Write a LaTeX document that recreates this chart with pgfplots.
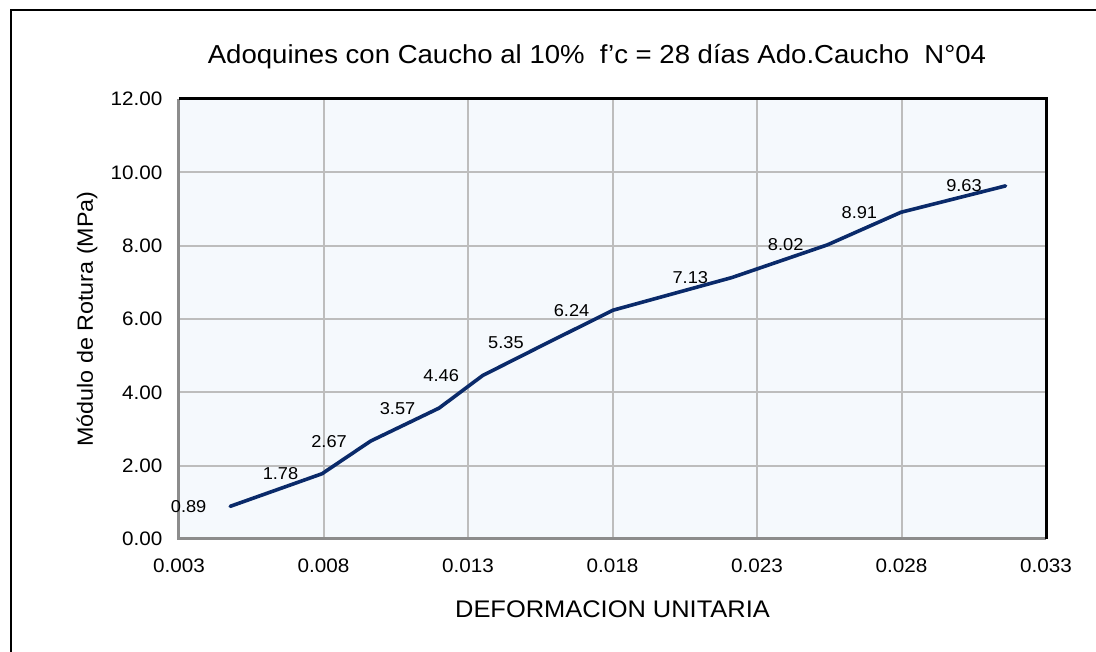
\documentclass[border=0pt]{standalone}
\usepackage{fontspec}
\setmainfont{Liberation Sans}[FakeStretch=1.06]
\usepackage{pgfplots}
\usepackage{pgfplotstable}
\pgfplotsset{compat=1.18}
\pgfkeys{/pgf/number format/assume math mode=true}
\definecolor{linec}{HTML}{0A2A6A}
\definecolor{bgc}{HTML}{F5F9FD}
\definecolor{gridc}{HTML}{BDBDBD}
\definecolor{framec}{HTML}{8C8C8C}
\pgfplotstableread{
x y
0.00477 0.89
0.00795 1.78
0.00963 2.67
0.01200 3.57
0.01351 4.46
0.01575 5.35
0.01802 6.24
0.02213 7.13
0.02543 8.02
0.02798 8.91
0.03160 9.63
}\datatable
\begin{document}
\begin{tikzpicture}[x=1pt,y=1pt]
\useasboundingbox (0,0) rectangle (1096,652);
\draw[line width=2pt] (11,-2) -- (11,642) -- (1098,642);
\node[font=\fontsize{26}{30}\selectfont] at (597,595) {Adoquines con Caucho al 10\%\ \ f’c = 28 días Ado.Caucho\ \ N°04};
\begin{axis}[
  at={(179pt,113pt)}, anchor=south west,
  scale only axis, width=867pt, height=440pt,
  xmin=0.003, xmax=0.033, ymin=0, ymax=12,
  xtick={0.003,0.008,0.013,0.018,0.023,0.028,0.033},
  ytick={0,2,4,6,8,10,12},
  scaled x ticks=false, scaled y ticks=false,
  xticklabel style={/pgf/number format/fixed, /pgf/number format/fixed zerofill, /pgf/number format/precision=3, font=\fontsize{19.5}{22}\selectfont, yshift=-16pt},
  yticklabel style={/pgf/number format/fixed, /pgf/number format/fixed zerofill, /pgf/number format/precision=2, font=\fontsize{19.5}{22}\selectfont, xshift=-13pt},
  major tick length=0pt,
  tick style={draw=none},
  grid=major,
  major grid style={gridc, line width=2pt},
  axis line style={draw=none},
  axis background/.style={fill=bgc},
  xlabel={DEFORMACION UNITARIA},
  ylabel={Módulo de Rotura (MPa)},
  xlabel style={at={(axis description cs:0.5,-0.159)}, anchor=center, font=\fontsize{24}{28}\selectfont},
  ylabel style={at={(axis description cs:-0.106,0.5)}, anchor=center, font=\fontsize{22}{26}\selectfont},
  every node near coord/.append style={anchor=east, xshift=-22pt, inner sep=0pt, text=black, font=\fontsize{17.2}{20}\selectfont},
  clip=false,
]
\addplot[linec, line width=3.6pt, line join=round, line cap=round,
  nodes near coords={\pgfmathprintnumber[fixed,fixed zerofill,precision=2]{\pgfplotspointmeta}},
  point meta=y] table[x=x,y=y] {\datatable};
\draw[framec, line width=3pt] (rel axis cs:1,0) -- (rel axis cs:0,0) -- (rel axis cs:0,1);
\draw[black, line width=3pt] (rel axis cs:0,1) -- (rel axis cs:1,1) -- (rel axis cs:1,0);
\end{axis}
\end{tikzpicture}
\end{document}
